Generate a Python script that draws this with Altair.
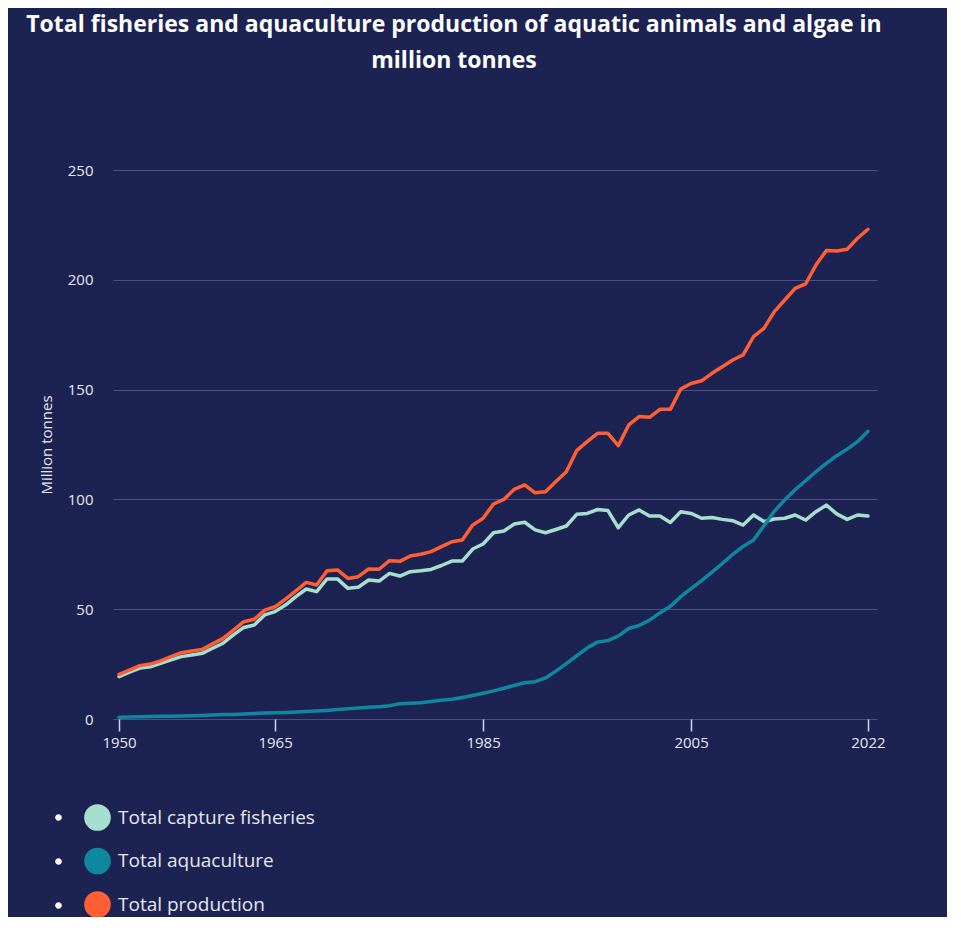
import altair as alt
import pandas as pd

years = list(range(1950, 2023))

capture = [
    19.3, 21.3, 23.2, 23.8, 25.4, 26.9, 28.4, 29.1, 29.9, 32.2,
    34.5, 38.3, 41.7, 42.8, 47.4, 48.9, 51.9, 55.7, 59.2, 58.0,
    63.8, 63.8, 59.5, 60.0, 63.3, 62.8, 66.3, 65.1, 67.1, 67.5,
    68.1, 69.9, 71.9, 71.9, 77.4, 79.7, 84.8, 85.6, 88.8, 89.6,
    86.1, 84.8, 86.3, 87.9, 93.2, 93.6, 95.4, 94.9, 87.1, 92.9,
    95.2, 92.4, 92.4, 89.5, 94.4, 93.6, 91.4, 91.8, 90.9, 90.3,
    88.3, 92.9, 89.9, 91.1, 91.4, 92.9, 90.6, 94.4, 97.4, 93.4,
    90.9, 92.9, 92.4,
]

aquaculture = [
    0.8, 0.9, 1.0, 1.1, 1.2, 1.3, 1.4, 1.5, 1.6, 1.8,
    2.0, 2.1, 2.3, 2.5, 2.7, 2.9, 3.0, 3.2, 3.4, 3.6,
    3.9, 4.3, 4.7, 5.0, 5.3, 5.6, 6.0, 7.0, 7.2, 7.4,
    8.0, 8.5, 9.0, 9.8, 10.7, 11.7, 12.8, 14.0, 15.3, 16.5,
    17.0, 18.7, 21.8, 25.2, 28.8, 32.3, 35.0, 35.7, 37.8, 41.2,
    42.6, 45.0, 48.3, 51.3, 55.7, 59.4, 63.0, 66.9, 70.8, 75.0,
    78.6, 81.5, 88.0, 94.6, 99.8, 104.4, 108.5, 112.6, 116.4, 119.9,
    122.9, 126.3, 131.0,
]

production = [
    20.3, 22.3, 24.3, 25.0, 26.5, 28.4, 30.2, 31.0, 31.7, 34.2,
    36.7, 40.5, 44.3, 45.4, 49.6, 51.1, 54.6, 58.3, 62.2, 61.0,
    67.5, 67.9, 64.0, 64.8, 68.3, 68.2, 72.1, 71.8, 74.2, 75.0,
    76.2, 78.5, 80.7, 81.5, 88.3, 91.4, 97.9, 100.0, 104.6, 106.6,
    103.0, 103.5, 108.1, 112.6, 122.2, 126.3, 130.1, 130.1, 124.5, 133.9,
    137.7, 137.4, 141.0, 141.0, 150.3, 152.8, 154.0, 157.4, 160.4, 163.5,
    165.8, 174.1, 177.9, 185.5, 190.8, 196.1, 198.1, 206.7, 213.3, 213.1,
    213.9, 218.9, 223.0,
]

series_names = ["Total capture fisheries", "Total aquaculture", "Total production"]
series_colors = ["#a6dfcd", "#0f889f", "#ff5f33"]
bullet_keys = ["b1", "b2", "b3"]
x_ticks = [1950, 1965, 1985, 2005, 2022]
y_ticks = [0, 50, 100, 150, 200, 250]
title_lines = [
    "Total fisheries and aquaculture production of aquatic animals and algae in",
    "million tonnes",
]

df = pd.DataFrame({
    "year": years * 3,
    "series": [series_names[0]] * len(years) + [series_names[1]] * len(years) + [series_names[2]] * len(years),
    "value": capture + aquaculture + production,
})
legend_df = pd.DataFrame({"series": series_names, "bullet": bullet_keys})

BG = "#1c2352"
TEXT = "#e6e7f0"
FONT = "Open Sans"
BULLET_PATH = "M-0.25,0A0.25,0.25,0,1,1,0.25,0A0.25,0.25,0,1,1,-0.25,0Z"

x_enc = alt.X(
    "year:Q",
    scale=alt.Scale(domain=[1949.42, 2022.87], nice=False, zero=False),
    axis=alt.Axis(
        values=x_ticks, format="d", title=None, grid=False, domain=False,
        ticks=True, tickSize=12, tickColor="#d4d6e2", tickWidth=1.5,
        labelPadding=4, labelFontSize=15, labelColor=TEXT, labelFont=FONT,
        labelFlush=False,
    ),
)
y_enc = alt.Y(
    "value:Q",
    scale=alt.Scale(domain=[0, 250], nice=False),
    axis=alt.Axis(
        values=y_ticks, title="Million tonnes", grid=True, gridColor="#4a5187",
        gridWidth=1, domain=False, ticks=False, labelPadding=20,
        labelFontSize=15, labelColor=TEXT, labelFont=FONT,
        titleFontSize=15, titleColor=TEXT, titleFont=FONT,
        titleFontWeight="normal", titlePadding=13,
    ),
)
color_enc = alt.Color(
    "series:N", scale=alt.Scale(domain=series_names, range=series_colors), legend=None
)

base = alt.Chart(df)
line_layers = [
    base.transform_filter(alt.datum.series == s)
    .mark_line(strokeWidth=3.5, strokeJoin="round", strokeCap="round")
    .encode(x=x_enc, y=y_enc, color=color_enc)
    for s in series_names
]

legend_main = (
    alt.Chart(legend_df)
    .transform_filter("false")
    .mark_circle()
    .encode(
        fill=alt.Fill(
            "series:N",
            scale=alt.Scale(domain=series_names, range=series_colors),
            legend=alt.Legend(
                title=None, orient="none", legendX=-29, legendY=634,
                symbolType="circle", symbolSize=710, symbolStrokeWidth=0,
                symbolOpacity=1, labelFontSize=19, labelColor=TEXT, labelFont=FONT,
                labelOffset=7, rowPadding=16.5, padding=0, labelLimit=400,
            ),
        )
    )
)

legend_bullets = (
    alt.Chart(legend_df)
    .transform_filter("false")
    .mark_circle()
    .encode(
        fill=alt.Fill(
            "bullet:N",
            scale=alt.Scale(domain=bullet_keys, range=["#ffffff"] * 3),
            legend=alt.Legend(
                title=None, orient="none", legendX=-68, legendY=634,
                symbolType=BULLET_PATH, symbolSize=710, symbolStrokeWidth=0,
                symbolOpacity=1, labelExpr="''", labelFontSize=19,
                rowPadding=20, padding=0,
            ),
        )
    )
)

chart = (
    alt.layer(*line_layers, legend_main, legend_bullets)
    .resolve_scale(fill="independent")
    .properties(
        width=764,
        height=549,
        background=BG,
        padding={"left": 105, "top": 162, "right": 70, "bottom": 198},
        autosize=alt.AutoSizeParams(type="none"),
        title=alt.Title(
            text=title_lines, anchor="middle", dx=-41, offset=90,
            fontSize=23, font=FONT, fontWeight="bold", color="#ffffff",
            lineHeight=36,
        ),
    )
    .configure_view(strokeWidth=0)
)

chart.save("out.html", embed_options={"renderer": "svg", "actions": False})
